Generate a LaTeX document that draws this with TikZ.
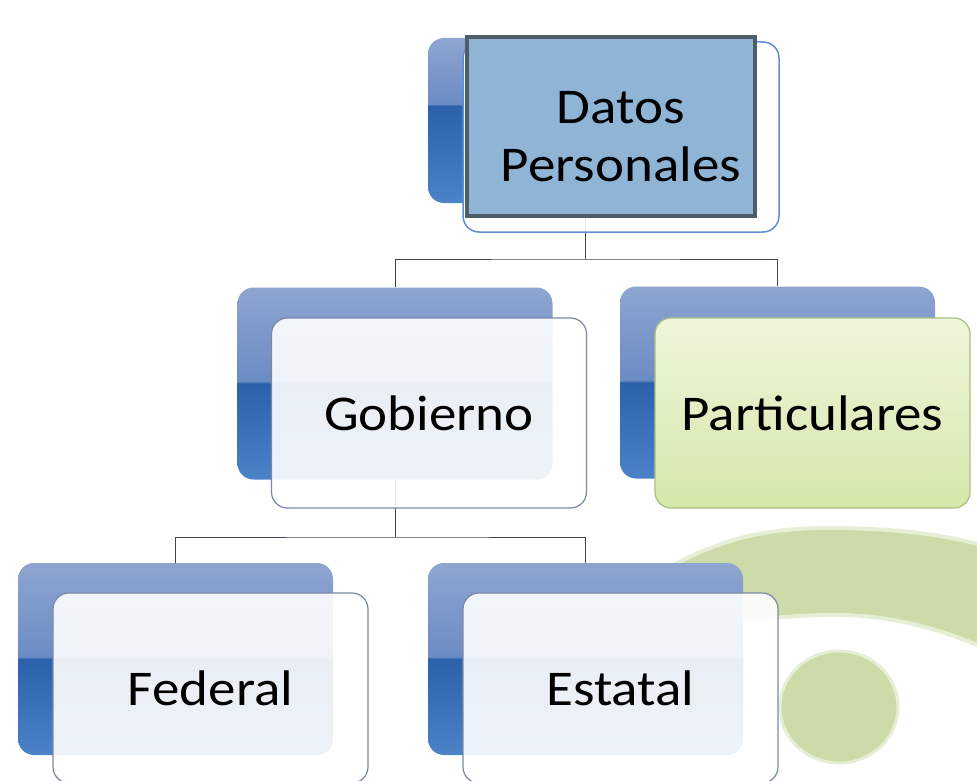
\documentclass[tikz,border=0pt]{standalone}
\usepackage{fontspec}
\setmainfont{Carlito}[FakeStretch=1.1]

\definecolor{bktop}{HTML}{8EA5D0}
\definecolor{bkmid}{HTML}{6B8CC4}
\definecolor{bkdark}{HTML}{2B61AA}
\definecolor{bkbot}{HTML}{4C82C8}
\definecolor{frontline}{HTML}{7A88A8}
\definecolor{topline}{HTML}{5E8FD6}
\definecolor{selfill}{HTML}{8FB4D5}
\definecolor{selline}{HTML}{4E5D68}
\definecolor{connline}{HTML}{3F4650}
\definecolor{leafgreen}{HTML}{CCDBA8}
\definecolor{leafrim}{HTML}{E6EED5}
\definecolor{pgtop}{HTML}{EEF6DA}
\definecolor{pgbot}{HTML}{D4E7A7}
\definecolor{pgline}{HTML}{A9BF7E}

\pgfdeclareverticalshading{backbox}{100bp}{color(0bp)=(bkbot); color(25bp)=(bkbot); color(50bp)=(bkdark); color(50.6bp)=(bkmid); color(75bp)=(bktop); color(100bp)=(bktop)}
\pgfdeclareverticalshading{topbackbox}{100bp}{color(0bp)=(bkbot); color(25bp)=(bkbot); color(54.5bp)=(bkdark); color(55bp)=(bkmid); color(75bp)=(bktop); color(100bp)=(bktop)}

\begin{document}
\begin{tikzpicture}[x=1pt,y=-1pt,
  backbox/.style={shading=backbox,rounded corners=16pt,minimum width=315pt,minimum height=192pt,inner sep=0pt},
  frontbox/.style={draw=frontline,line width=1.2pt,fill=white,fill opacity=0.9,text opacity=1,rounded corners=16pt,minimum width=315pt,minimum height=190pt,inner sep=0pt,font=\fontsize{50}{58}\selectfont},
  conn/.style={draw=connline,line width=1pt}]
\useasboundingbox (0,0) rectangle (977,781);

\fill[leafgreen,draw=leafrim,line width=4pt] (620,600) .. controls (700,540) and (760,528) .. (830,528)
  .. controls (900,528) and (950,536) .. (985,546) -- (985,648)
  .. controls (930,625) and (880,613) .. (820,615) .. controls (760,617) and (690,630) .. (620,600) -- cycle;
\fill[leafgreen,draw=leafrim,line width=3pt] (839,707) ellipse [x radius=59,y radius=56];

\node[backbox,shading=topbackbox,minimum height=165pt] (dback) at (585.5,120.5) {};
\node[backbox] (gback) at (395,383.5) {};
\node[backbox] (pback) at (777.5,382.5) {};
\node[backbox] (fback) at (175.5,659) {};
\node[backbox] (eback) at (585.5,659) {};

\coordinate (dbus) at (585.5,259);
\coordinate (gbus) at (395,537);
\draw[conn] (dback.south) -- (dbus);
\draw[conn] (gback.north) |- (dbus) -| (pback.north);
\draw[conn] (gback.south) -- (gbus);
\draw[conn] (fback.north) |- (gbus) -| (eback.north);

\node[frontbox,draw=topline,line width=1.5pt,minimum width=316pt] (dfront) at (621,137) {};
\node[draw=selline,fill=selfill,line width=4pt,minimum width=288pt,minimum height=179pt,inner sep=0pt] (dsel) at (611,126.5) {};
\node[font=\fontsize{50}{58}\selectfont,align=center] (dtext) at (dfront.center) {Datos\\Personales};

\node[frontbox] (gfront) at (429,413) {Gobierno};
\node[frontbox,draw=pgline,top color=pgtop,bottom color=pgbot,fill opacity=0.96] (pfront) at (812.5,413) {Particulares};
\node[frontbox] (ffront) at (210.5,688) {Federal};
\node[frontbox] (efront) at (620.5,688) {Estatal};
\end{tikzpicture}
\end{document}
